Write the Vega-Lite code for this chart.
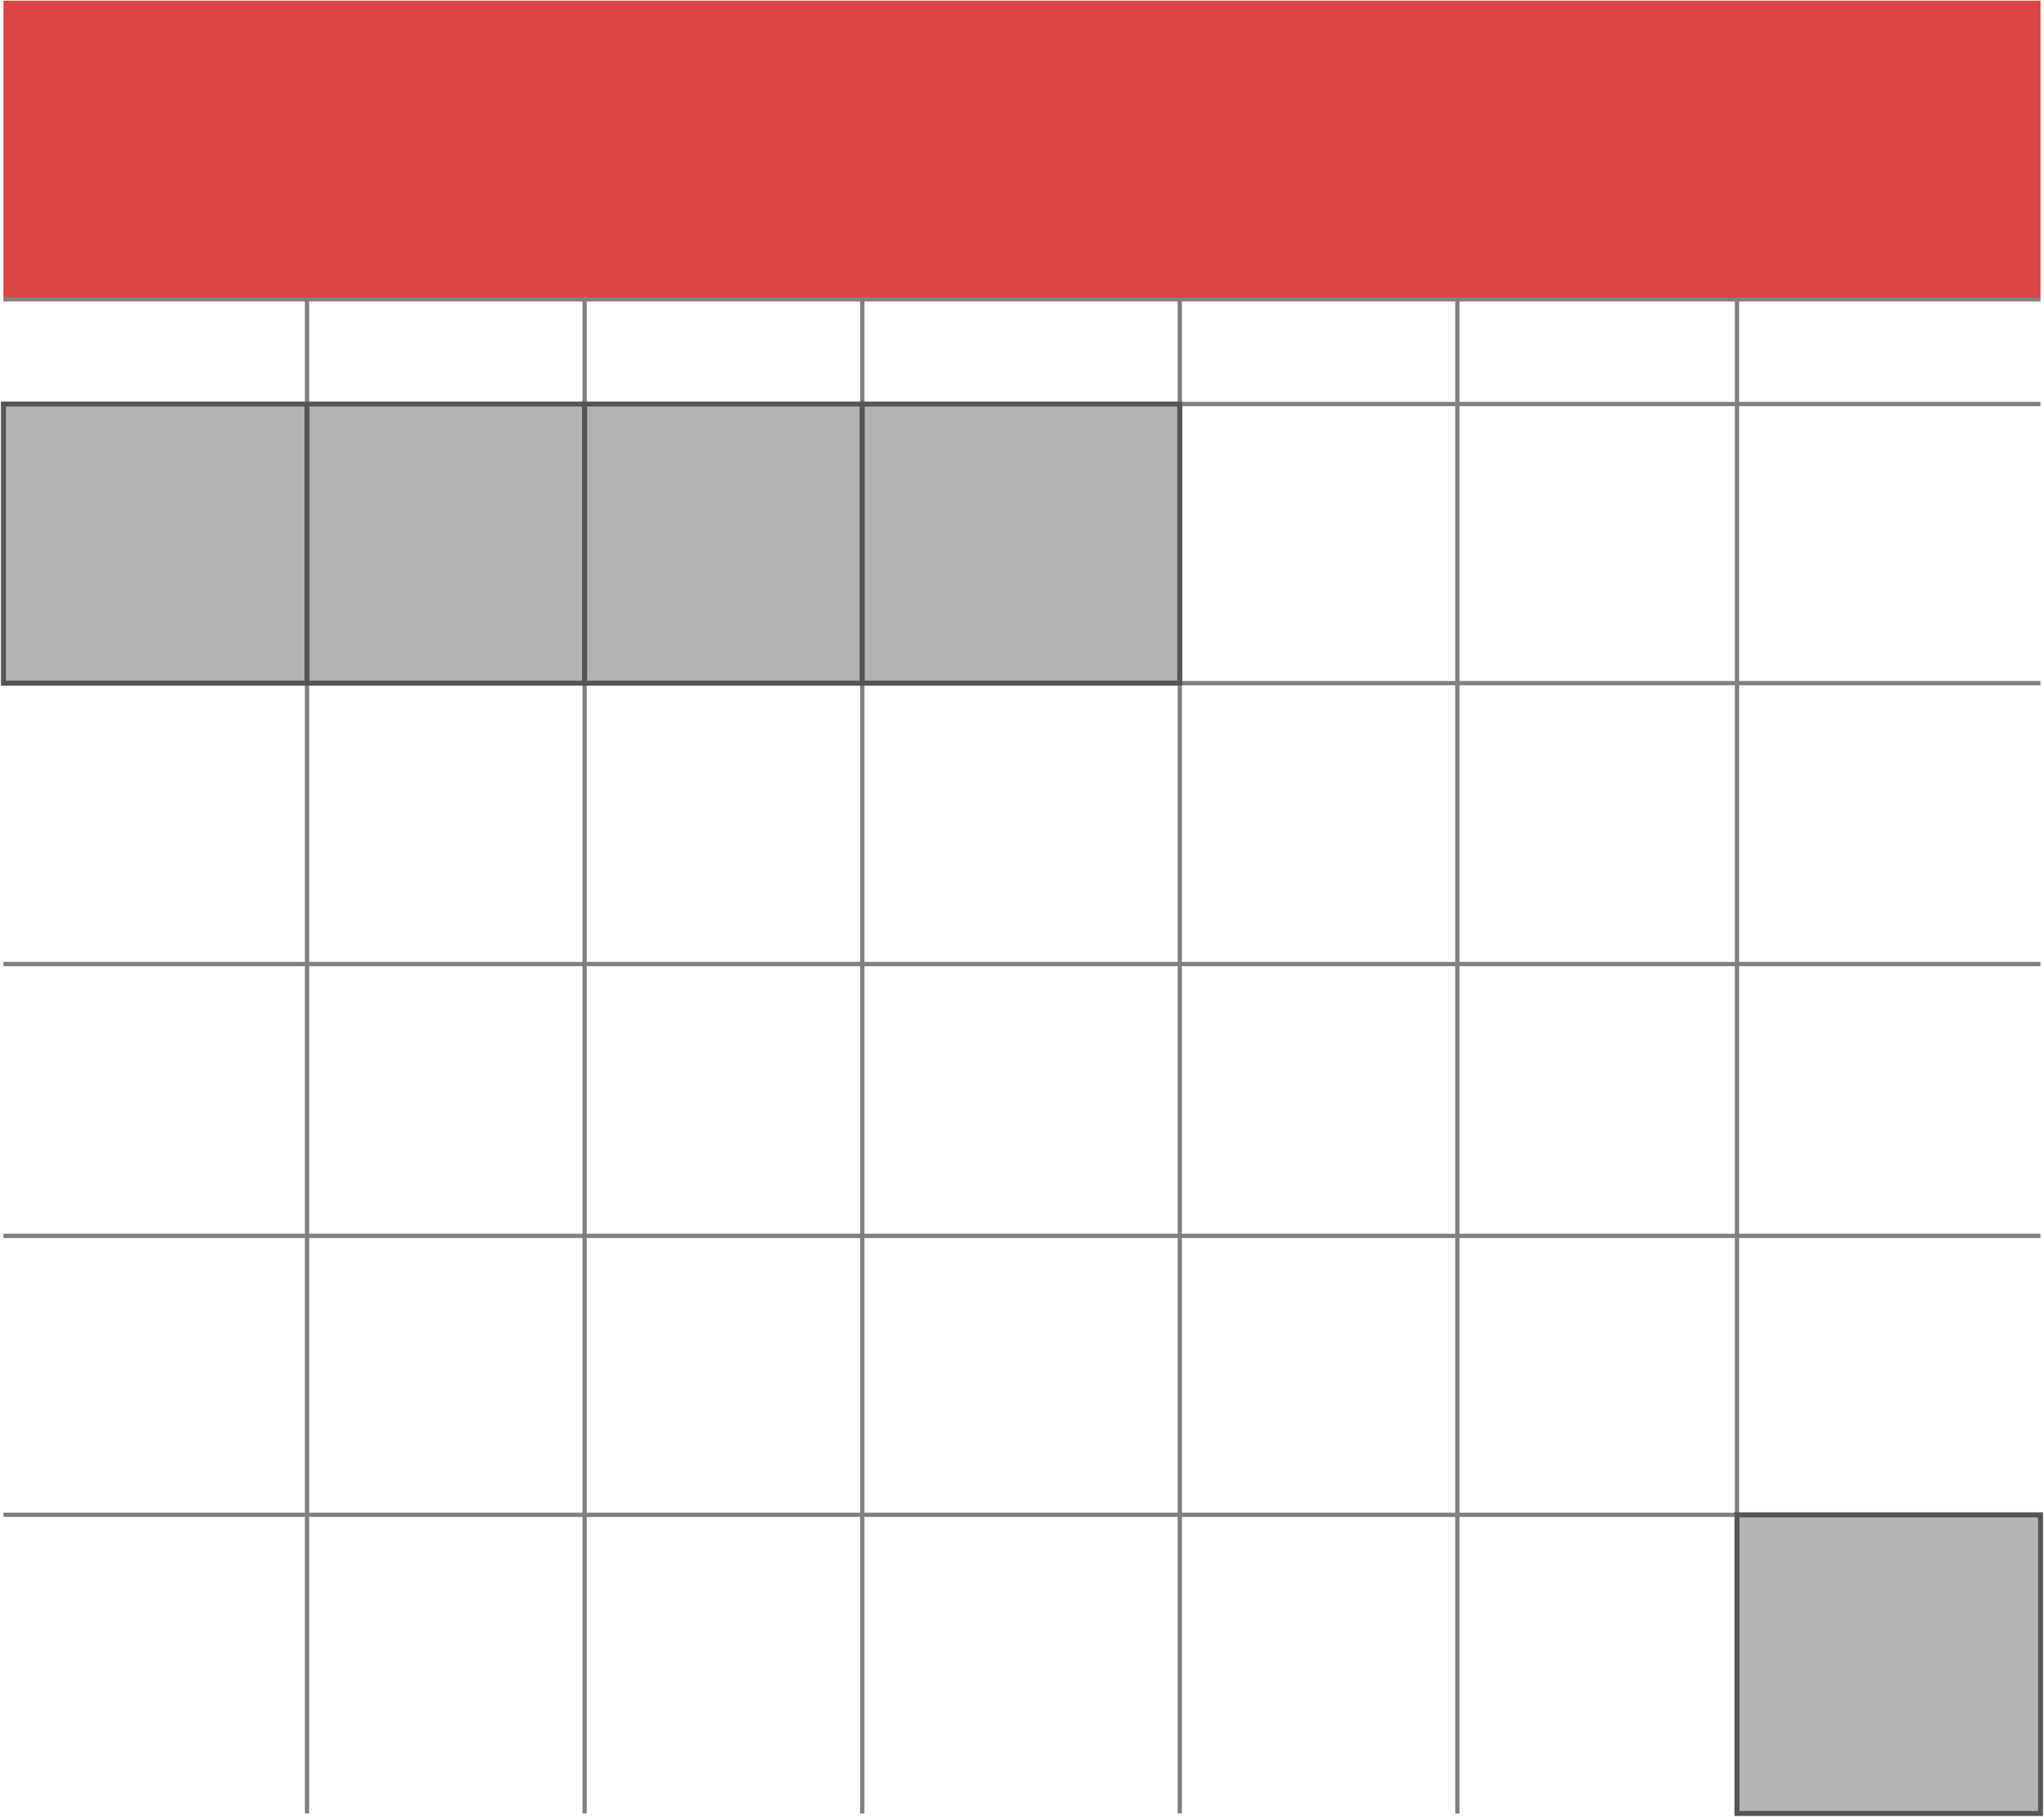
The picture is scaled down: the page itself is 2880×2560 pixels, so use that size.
{
  "$schema": "https://vega.github.io/schema/vega-lite/v6.json",
  "width": 2880,
  "height": 2560,
  "autosize": {"type": "fit", "contains": "padding"},
  "padding": 0,
  "background": "white",
  "config": {"view": {"stroke": null}},
  "datasets": {
    "header": [{"x": -1, "x2": 101, "y": -1, "y2": 15.8}],
    "vlines": [
      {"x": 14.2, "y": 15.8, "y2": 101},
      {"x": 28.1, "y": 15.8, "y2": 101},
      {"x": 42.0, "y": 15.8, "y2": 101},
      {"x": 57.9, "y": 15.8, "y2": 101},
      {"x": 71.8, "y": 15.8, "y2": 101},
      {"x": 85.8, "y": 15.8, "y2": 101}
    ],
    "hlines": [
      {"y": 15.8, "x": -1, "x2": 101},
      {"y": 21.7, "x": -1, "x2": 101},
      {"y": 37.4, "x": -1, "x2": 101},
      {"y": 53.2, "x": -1, "x2": 101},
      {"y": 68.5, "x": -1, "x2": 101},
      {"y": 84.2, "x": -1, "x2": 101}
    ],
    "cells": [
      {"x": -1, "x2": 14.2, "y": 21.7, "y2": 37.4},
      {"x": 14.2, "x2": 28.1, "y": 21.7, "y2": 37.4},
      {"x": 28.1, "x2": 42.0, "y": 21.7, "y2": 37.4},
      {"x": 42.0, "x2": 57.9, "y": 21.7, "y2": 37.4},
      {"x": 85.8, "x2": 101, "y": 84.2, "y2": 101}
    ]
  },
  "layer": [
    {
      "data": {"name": "header"},
      "mark": {"type": "rect", "color": "#dc4444", "clip": false},
      "encoding": {
        "x": {"field": "x", "type": "quantitative", "scale": {"domain": [0, 100], "nice": false, "zero": false}, "axis": null},
        "x2": {"field": "x2"},
        "y": {"field": "y", "type": "quantitative", "scale": {"domain": [0, 100], "nice": false, "zero": false, "reverse": true}, "axis": null},
        "y2": {"field": "y2"}
      }
    },
    {
      "data": {"name": "vlines"},
      "mark": {"type": "rule", "color": "#808080", "strokeWidth": 6, "clip": false},
      "encoding": {
        "x": {"field": "x", "type": "quantitative"},
        "y": {"field": "y", "type": "quantitative"},
        "y2": {"field": "y2"}
      }
    },
    {
      "data": {"name": "hlines"},
      "mark": {"type": "rule", "color": "#808080", "strokeWidth": 6, "clip": false},
      "encoding": {
        "y": {"field": "y", "type": "quantitative"},
        "x": {"field": "x", "type": "quantitative"},
        "x2": {"field": "x2"}
      }
    },
    {
      "data": {"name": "cells"},
      "mark": {"type": "rect", "fill": "#b3b3b3", "stroke": "#555555", "strokeWidth": 7, "clip": false},
      "encoding": {
        "x": {"field": "x", "type": "quantitative"},
        "x2": {"field": "x2"},
        "y": {"field": "y", "type": "quantitative"},
        "y2": {"field": "y2"}
      }
    }
  ]
}
